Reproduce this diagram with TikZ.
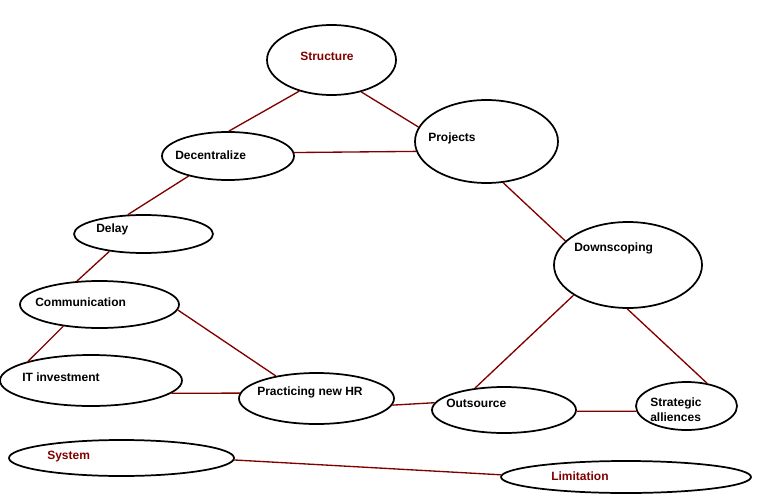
\documentclass[tikz,border=0pt]{standalone}
\usepackage{fontspec}
\setmainfont{Liberation Sans}
\usetikzlibrary{shapes.geometric}
\definecolor{maroon}{RGB}{128,0,0}
\tikzstyle{bubble}=[ellipse, draw=black, line width=1.3pt, fill=white, inner sep=0pt]
\tikzstyle{tag}=[anchor=west, inner sep=0pt, font=\fontsize{9}{11}\selectfont\bfseries]
\tikzstyle{link}=[draw=maroon, line width=1pt]

\begin{document}
\begin{tikzpicture}[x=0.75pt,y=-0.75pt]
\useasboundingbox (0,0) rectangle (759,499);
\node[bubble, minimum width=96.75pt, minimum height=52.5pt](structure) at (331.5,60) {};
\node[bubble, minimum width=107.25pt, minimum height=62.25pt](projects) at (486.5,141.5) {};
\node[bubble, minimum width=99pt, minimum height=36pt](decentralize) at (228,156) {};
\node[bubble, minimum width=104.25pt, minimum height=28.5pt](delay) at (143.5,234) {};
\node[bubble, minimum width=119.25pt, minimum height=35.25pt](communication) at (99.5,304.5) {};
\node[bubble, minimum width=136.5pt, minimum height=38.25pt](itinvest) at (91,380.5) {};
\node[bubble, minimum width=116.25pt, minimum height=38.25pt](newhr) at (316.5,398.5) {};
\node[bubble, minimum width=111pt, minimum height=64.5pt](downscoping) at (628,265) {};
\node[bubble, minimum width=108pt, minimum height=34.5pt](outsource) at (504,410) {};
\node[bubble, minimum width=75.75pt, minimum height=36pt](alliances) at (686.5,406) {};
\node[bubble, minimum width=168.75pt, minimum height=27pt](system) at (121.5,458) {};
\node[bubble, minimum width=187.5pt, minimum height=24pt](limitation) at (626,477) {};

\node[tag, text=maroon](structure-txt) at (300,56) {Structure};
\node[tag](projects-txt) at (428,138) {Projects};
\node[tag](decentralize-txt) at (175,155) {Decentralize};
\node[tag](delay-txt) at (96,229) {Delay};
\node[tag](communication-txt) at (35,302) {Communication};
\node[tag](itinvest-txt) at (22,377) {IT investment};
\node[tag](newhr-txt) at (257,392) {Practicing new HR};
\node[tag](downscoping-txt) at (574,248) {Downscoping};
\node[tag](outsource-txt) at (446,403) {Outsource};
\node[tag, align=left](alliances-txt) at (650,409.5) {Strategic\\alliences};
\node[tag, text=maroon](system-txt) at (47,457) {System};
\node[tag, text=maroon](limitation-txt) at (551,476) {Limitation};

\draw[link](structure.224) -- (decentralize.88);
\draw[link](structure.313) -- (projects.168);
\draw[link](decentralize.3) -- (projects.188);
\draw[link](decentralize.207) -- (delay.129);
\draw[link](delay.207) -- (communication.134);
\draw[link](communication.211) -- (itinvest.163);
\draw[link](communication.356) -- (newhr.151);
\draw[link](itinvest.351) -- (newhr.176);
\draw[link](newhr.355) -- (outsource.174);
\draw[link](projects.292) -- (downscoping.159);
\draw[link](downscoping.209) -- (outsource.143);
\draw[link](downscoping.269) -- (alliances.48);
\draw[link](outsource.359) -- (alliances.186);
\draw[link](system.359) -- (limitation.179);
\end{tikzpicture}
\end{document}
